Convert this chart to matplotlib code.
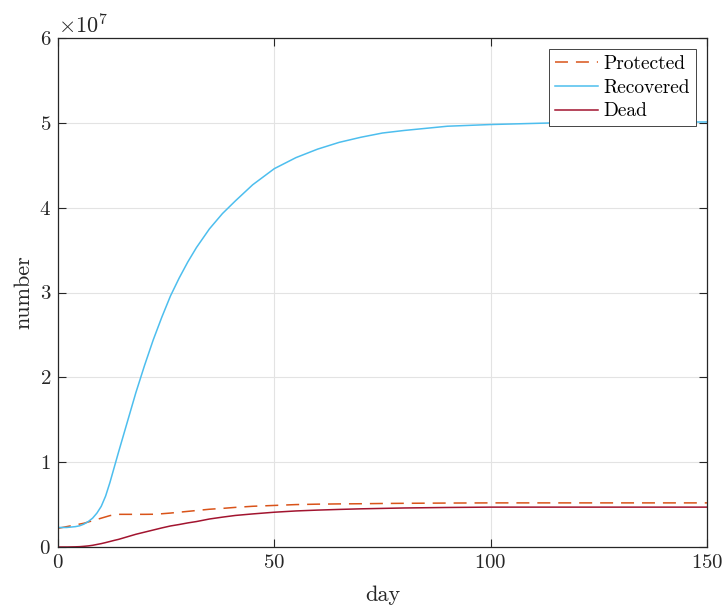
import numpy as np
import matplotlib
matplotlib.use('Agg')
import matplotlib.pyplot as plt

## DATA (units of 1e7)
day = [0, 2, 4, 5, 6, 7, 8, 9, 10, 11, 12, 13, 14, 16, 18, 20, 22, 24, 26,
       28, 30, 32, 35, 38, 41, 45, 50, 55, 60, 65, 70, 75, 80, 90, 100, 115,
       130, 150]

recovered = [0.23, 0.23, 0.24, 0.25, 0.27, 0.30, 0.34, 0.40, 0.48, 0.60,
             0.76, 0.94, 1.12, 1.47, 1.82, 2.14, 2.44, 2.71, 2.96, 3.17, 3.36,
             3.53, 3.75, 3.93, 4.08, 4.27, 4.46, 4.59, 4.69, 4.77, 4.83, 4.88,
             4.91, 4.96, 4.98, 5.00, 5.01, 5.01]

protected = [0.22, 0.24, 0.26, 0.27, 0.28, 0.295, 0.31, 0.325, 0.34, 0.355,
             0.37, 0.38, 0.385, 0.385, 0.385, 0.385, 0.386, 0.392, 0.40, 0.41,
             0.42, 0.43, 0.445, 0.455, 0.467, 0.48, 0.49, 0.50, 0.505, 0.508,
             0.51, 0.513, 0.515, 0.518, 0.52, 0.52, 0.52, 0.52]

dead = [0.0, 0.0, 0.002, 0.004, 0.008, 0.013, 0.02, 0.03, 0.04, 0.052, 0.065,
        0.078, 0.09, 0.12, 0.15, 0.175, 0.2, 0.225, 0.248, 0.265, 0.284, 0.3,
        0.33, 0.352, 0.372, 0.39, 0.41, 0.425, 0.435, 0.443, 0.45, 0.455,
        0.46, 0.466, 0.47, 0.47, 0.47, 0.47]

scale = 1e7
recovered = np.array(recovered) * scale
protected = np.array(protected) * scale
dead = np.array(dead) * scale

## STYLE
plt.rcParams['font.family'] = 'serif'
plt.rcParams['font.serif'] = ['cmr10']
plt.rcParams['mathtext.fontset'] = 'cm'
plt.rcParams['axes.formatter.use_mathtext'] = True

axcol = '#262626'

fig = plt.figure(figsize=(7.25, 6.10), dpi=100)
ax = fig.add_axes([58/725, 63/610, 649/725, 509/610])

ax.plot(day, protected, '--', color='#D95319', lw=1.1, dashes=(8.5, 5.2), label='Protected')
ax.plot(day, recovered, '-', color='#4DBEEE', lw=1.1, label='Recovered')
ax.plot(day, dead, '-', color='#A2142F', lw=1.1, label='Dead')

ax.set_xlim(0, 150)
ax.set_ylim(0, 6e7)
ax.set_xticks([0, 50, 100, 150])
ax.set_yticks(np.arange(0, 7) * 1e7)

ax.grid(True, color='#E3E3E3', lw=0.8)
ax.set_axisbelow(True)
for s in ax.spines.values():
    s.set_color(axcol)
    s.set_linewidth(0.9)
ax.tick_params(direction='in', length=6, width=0.8, colors=axcol,
               top=True, right=True, labelsize=15, pad=5)
ax.yaxis.get_offset_text().set_fontsize(16)

ax.set_xlabel('day', color=axcol, fontsize=16, labelpad=10)
ax.set_ylabel('number', color=axcol, fontsize=16, labelpad=4)

leg = ax.legend(loc='upper right', bbox_to_anchor=(0.983, 0.978), borderaxespad=0,
                fancybox=False, edgecolor=axcol, framealpha=1, fontsize=14,
                handlelength=2.2, handletextpad=0.3, labelspacing=0.3,
                borderpad=0.3)
leg.get_frame().set_linewidth(0.6)

fig.savefig('out.png', dpi=100)
